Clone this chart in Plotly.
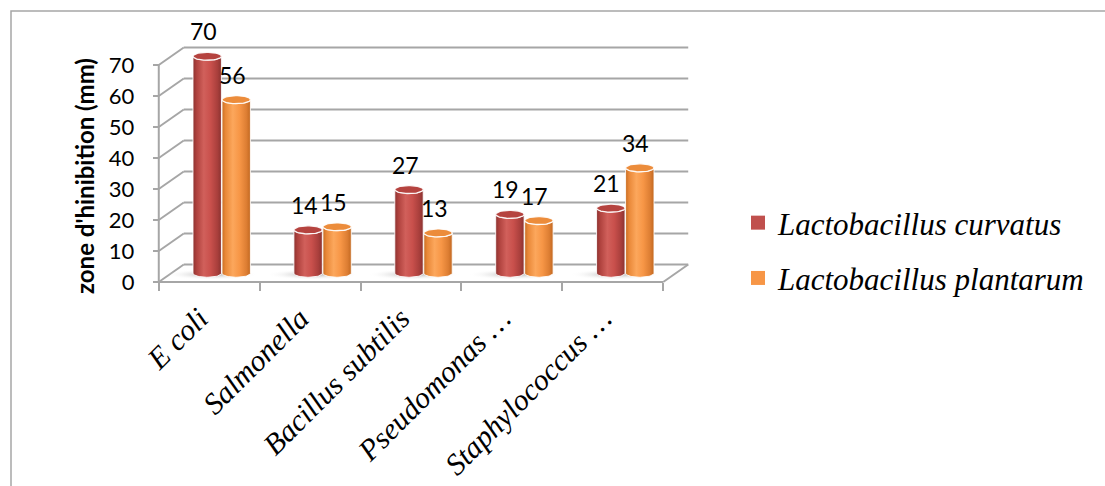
import numpy as np
import plotly.graph_objects as go

# ---- data -------------------------------------------------------------
categories = ["E coli", "Salmonella", "Bacillus subtilis", "Pseudomonas …", "Staphylococcus …"]
curvatus = [70, 14, 27, 19, 21]
plantarum = [56, 15, 13, 17, 34]
y_ticks = [0, 10, 20, 30, 40, 50, 60, 70]
series_names = ["Lactobacillus curvatus", "Lactobacillus plantarum"]

# ---- page / plot-area geometry (pixels) ---------------------------------
W, H = 1105, 486
ML, MT = 141, 25
PW, PH = 565, 265
MR, MB = W - ML - PW, H - MT - PH

X0, X1 = -0.3, 5.3
SX = PW / (X1 - X0)              # px per category unit
SY = 3.1                         # px per mm
Y1 = (273.25 - MT) / SY
Y0 = Y1 - PH / SY

# half depth of the pseudo-3D box (front plane = -, back wall = +)
FX = 12.5 / SX
FY = 8.75 / SY

HALF_W = 14.2 / SX               # cylinder radius (x)
OFFSET = 14.5 / SX               # bar offset from category centre
RY = 4.0 / SY                    # ellipse half height of the caps

GRID = "#A6A6A6"


def px_to_paper_x(px):
    return (px - ML) / PW


def px_to_paper_y(py):
    return (MT + PH - py) / PH


fig = go.Figure()

# ---- floor shadows --------------------------------------------------------
t = np.linspace(0, 2 * np.pi, 60)
for i in range(len(categories)):
    cx = i + 0.5 - 10 / SX
    fig.add_trace(go.Scatter(
        x=cx + (46 / SX) * np.cos(t), y=-1.2 / SY + (5.5 / SY) * np.sin(t),
        mode="lines", fill="toself", line=dict(width=0, color="rgba(0,0,0,0)"),
        fillgradient=dict(type="radial",
                          colorscale=[[0, "rgba(120,120,120,0.6)"],
                                      [1, "rgba(255,255,255,0)"]]),
        hoverinfo="skip", showlegend=False))

# ---- cylinders ------------------------------------------------------------
body_scales = [
    [[0, "#8C3230"], [0.12, "#AE413D"], [0.38, "#D1605B"], [0.62, "#C9504C"],
     [0.86, "#A93F3C"], [1, "#8A3230"]],
    [[0, "#C76C22"], [0.12, "#E98838"], [0.38, "#FCA75C"], [0.62, "#F79646"],
     [0.86, "#DD7E33"], [1, "#C26820"]],
]
cap_colors = ["#B5433F", "#EC8C3B"]
half = np.linspace(0, np.pi, 30)

for s, values in enumerate([curvatus, plantarum]):
    for i, v in enumerate(values):
        cx = i + 0.5 + (-OFFSET if s == 0 else OFFSET)
        # bottom front arc (left -> right), then top front arc (right -> left)
        bx = cx - HALF_W * np.cos(half)
        by = -RY * np.sin(half)
        tx = cx + HALF_W * np.cos(half)
        ty = v - RY * np.sin(half)
        xs = np.concatenate([bx, tx, bx[:1]])
        ys = np.concatenate([by, ty, by[:1]])
        fig.add_trace(go.Scatter(
            x=xs, y=ys, mode="lines", fill="toself",
            line=dict(color="rgba(255,255,255,0.85)", width=1),
            fillgradient=dict(type="horizontal", colorscale=body_scales[s]),
            hoverinfo="skip", showlegend=False))
        # top cap
        fig.add_trace(go.Scatter(
            x=cx + HALF_W * np.cos(t), y=v + RY * np.sin(t),
            mode="lines", fill="toself", fillcolor=cap_colors[s],
            line=dict(color="rgba(255,255,255,0.9)", width=1.3),
            hoverinfo="skip", showlegend=False))

# ---- legend entries -------------------------------------------------------
legend_colors = ["#C0504D", "#F79646"]
for s, name in enumerate(series_names):
    fig.add_trace(go.Scatter(
        x=[None], y=[None], mode="markers", name=name, legendgroup=name,
        marker=dict(symbol="square", size=14, color=legend_colors[s]),
        hoverinfo="skip"))

# dummy trace registering the categories on the front axis
fig.add_trace(go.Scatter(x=categories, y=[None] * len(categories), xaxis="x2", yaxis="y2",
                         mode="markers", showlegend=False, hoverinfo="skip"))

# ---- walls, floor and gridlines -------------------------------------------
n = len(categories)
shapes = []


def seg(x0, y0, x1, y1, width=2):
    shapes.append(dict(type="line", xref="x", yref="y", x0=x0, y0=y0, x1=x1, y1=y1,
                       line=dict(color=GRID, width=width), layer="below"))


for v in y_ticks:
    seg(FX, v + FY, n + FX, v + FY)          # back wall gridline
    seg(-FX, v - FY, FX, v + FY)             # side wall diagonal
seg(-FX, -FY, -FX, y_ticks[-1] - FY)         # front value axis
seg(-FX, -FY, n - FX, -FY)                   # front floor edge
seg(n - FX, -FY, n + FX, FY)                 # right floor edge

# outer chart border
shapes.append(dict(type="rect", xref="paper", yref="paper",
                   x0=px_to_paper_x(11), x1=px_to_paper_x(1130),
                   y0=px_to_paper_y(520), y1=px_to_paper_y(11),
                   line=dict(color="#A6A6A6", width=1.5), layer="below"))

# ---- value labels ---------------------------------------------------------
annotations = []
for s, values in enumerate([curvatus, plantarum]):
    for i, v in enumerate(values):
        cx = i + 0.5 + (-OFFSET if s == 0 else OFFSET)
        annotations.append(dict(x=cx, y=v, xref="x", yref="y", text=str(v),
                                showarrow=False, yshift=25, xshift=-4,
                                font=dict(family="Lato", size=23, color="black")))

annotations.append(dict(x=px_to_paper_x(84), y=px_to_paper_y(176), xref="paper", yref="paper",
                        xanchor="center", yanchor="middle",
                        text="<b>zone d'hinibition (mm)</b>", textangle=-90, showarrow=False,
                        font=dict(family="Lato", size=24, color="black")))

fig.update_layout(
    width=W, height=H,
    margin=dict(l=ML, r=MR, t=MT, b=MB, autoexpand=False),
    paper_bgcolor="white", plot_bgcolor="white",
    xaxis=dict(range=[X0, X1], visible=False, fixedrange=True),
    yaxis=dict(range=[Y0, Y1], visible=False, fixedrange=True),
    xaxis2=dict(type="category", overlaying="x", anchor="free",
                position=px_to_paper_y(282),
                range=[X0 - 0.5 + FX, X1 - 0.5 + FX],
                categoryorder="array", categoryarray=categories,
                tickson="boundaries", ticks="outside", ticklen=8, tickwidth=2, tickcolor=GRID,
                showgrid=False, zeroline=False, showline=False, tickangle=-45,
                ticklabelstandoff=12, ticklabelshift=-10,
                tickfont=dict(family="Liberation Serif", size=30, color="black", style="italic")),
    yaxis2=dict(overlaying="y", anchor="free", position=px_to_paper_x(158.8), side="left",
                range=[Y0 + FY, Y1 + FY], tickvals=y_ticks, ticks="outside",
                ticklen=6, tickwidth=2, tickcolor=GRID, ticklabelstandoff=14,
                showgrid=False, zeroline=False, showline=False,
                tickfont=dict(family="Lato", size=22, color="black")),
    shapes=shapes,
    annotations=annotations,
    showlegend=True,
    legend=dict(x=px_to_paper_x(738), y=px_to_paper_y(196), xanchor="left", yanchor="top",
                traceorder="grouped", tracegroupgap=12, bgcolor="rgba(0,0,0,0)",
                font=dict(family="Liberation Serif", size=31, color="black", style="italic")),
)

fig.write_html("out.html")
